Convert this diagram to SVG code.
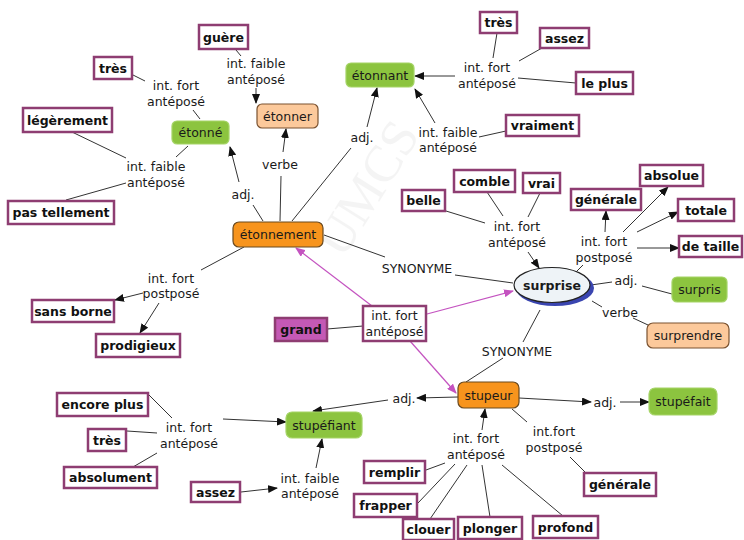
<svg xmlns="http://www.w3.org/2000/svg" width="744" height="540" viewBox="0 0 744 540">
<defs>
<marker id="ah" markerUnits="userSpaceOnUse" markerWidth="10" markerHeight="8" refX="9" refY="4" orient="auto"><path d="M0,0 L10,4 L0,8 z" fill="#111"/></marker>
<marker id="am" markerUnits="userSpaceOnUse" markerWidth="10" markerHeight="8" refX="9" refY="4" orient="auto"><path d="M0,0 L10,4 L0,8 z" fill="#c453c0"/></marker>
</defs>
<style>
text{font-family:"DejaVu Sans","Noto Sans",sans-serif;font-size:12.5px;fill:#1a1a1a;text-anchor:middle;dominant-baseline:central}
.b rect{fill:#fff;stroke:#8e3d72;stroke-width:2.5}
.b text{font-weight:bold;fill:#111}
.g rect{fill:#8cc43f;stroke:#a5d467;stroke-width:1.2}
.p rect{fill:#fcc99b;stroke:#7a5230;stroke-width:1.2}
.o rect{fill:#f7941d;stroke:#6b4a1f;stroke-width:1.2}
#conn line{stroke:#333;stroke-width:1}
#conn .a{marker-end:url(#ah)}
#conn line.m{stroke:#c453c0;stroke-width:1.2;marker-end:url(#am)}
.wm{font-family:"Liberation Serif",serif;font-size:52px;fill:#000;opacity:0.04}
</style>
<rect width="744" height="540" fill="#fff"/>
<text class="wm" transform="translate(367,188) rotate(-58)">UMCS</text>
<g id="conn">
<line x1="236" y1="50" x2="241" y2="56"/>
<line class="a" x1="256" y1="88" x2="256" y2="103"/>
<line x1="133" y1="75" x2="145" y2="81"/>
<line x1="193" y1="110" x2="200" y2="119"/>
<line x1="72" y1="132" x2="126" y2="158"/>
<line x1="176" y1="157" x2="188" y2="146"/>
<line x1="66" y1="200" x2="126" y2="183"/>
<line x1="263" y1="221" x2="253" y2="205"/>
<line class="a" x1="239" y1="182" x2="230" y2="147"/>
<line x1="280" y1="221" x2="281" y2="176"/>
<line class="a" x1="283" y1="152" x2="286" y2="129"/>
<line x1="292" y1="221" x2="351" y2="148"/>
<line class="a" x1="367" y1="127" x2="377" y2="88"/>
<line x1="497" y1="33" x2="493" y2="58"/>
<line x1="542" y1="48" x2="519" y2="61"/>
<line x1="576" y1="83" x2="518" y2="78"/>
<line class="a" x1="455" y1="76" x2="415" y2="76"/>
<line class="a" x1="435" y1="123" x2="415" y2="89"/>
<line x1="506" y1="131" x2="479" y2="137"/>
<line x1="244" y1="247" x2="201" y2="270"/>
<line class="a" x1="143" y1="293" x2="115" y2="300"/>
<line class="a" x1="159" y1="303" x2="140" y2="333"/>
<line x1="324" y1="235" x2="385" y2="257"/>
<line x1="455" y1="275" x2="513" y2="283"/>
<line x1="327" y1="329" x2="363" y2="326"/>
<line x1="446" y1="211" x2="485" y2="223"/>
<line x1="487" y1="192" x2="503" y2="216"/>
<line x1="540" y1="193" x2="528" y2="217"/>
<line class="a" x1="528" y1="252" x2="539" y2="268"/>
<line x1="576" y1="272" x2="583" y2="265"/>
<line class="a" x1="605" y1="232" x2="606" y2="211"/>
<line class="a" x1="623" y1="232" x2="668" y2="187"/>
<line class="a" x1="637" y1="232" x2="678" y2="212"/>
<line class="a" x1="637" y1="248" x2="679" y2="248"/>
<line x1="591" y1="285" x2="612" y2="282"/>
<line x1="642" y1="286" x2="672" y2="294"/>
<line x1="592" y1="301" x2="602" y2="307"/>
<line x1="633" y1="318" x2="648" y2="325"/>
<line x1="540" y1="310" x2="523" y2="342"/>
<line x1="503" y1="358" x2="466" y2="382"/>
<line class="a" x1="458" y1="397" x2="417" y2="398"/>
<line class="a" x1="388" y1="400" x2="313" y2="411"/>
<line class="a" x1="519" y1="398" x2="591" y2="402"/>
<line class="a" x1="620" y1="402" x2="649" y2="402"/>
<line x1="512" y1="409" x2="527" y2="422"/>
<line x1="570" y1="457" x2="585" y2="472"/>
<line class="a" x1="482" y1="430" x2="485" y2="409"/>
<line x1="426" y1="470" x2="445" y2="463"/>
<line x1="418" y1="503" x2="455" y2="464"/>
<line x1="430" y1="519" x2="467" y2="465"/>
<line x1="482" y1="465" x2="490" y2="517"/>
<line x1="502" y1="465" x2="563" y2="516"/>
<line x1="149" y1="395" x2="172" y2="418"/>
<line x1="127" y1="431" x2="157" y2="433"/>
<line x1="133" y1="467" x2="157" y2="453"/>
<line class="a" x1="223" y1="419" x2="286" y2="422"/>
<line class="a" x1="241" y1="492" x2="277" y2="488"/>
<line class="a" x1="316" y1="468" x2="322" y2="439"/>
<line class="m" x1="372" y1="306" x2="296" y2="248"/>
<line class="m" x1="427" y1="314" x2="513" y2="291"/>
<line class="m" x1="410" y1="341" x2="456" y2="393"/>
</g>
<g id="labels">
<text x="256" y="63">int. faible</text><text x="256" y="79">antéposé</text>
<text x="176" y="85">int. fort</text><text x="176" y="101">antéposé</text>
<text x="156" y="166">int. faible</text><text x="156" y="182">antéposé</text>
<text x="243" y="194">adj.</text>
<text x="280" y="164">verbe</text>
<text x="362" y="137">adj.</text>
<text x="487" y="67">int. fort</text><text x="487" y="83">antéposé</text>
<text x="448" y="132">int. faible</text><text x="448" y="147">antéposé</text>
<text x="517" y="226">int. fort</text><text x="517" y="242">antéposé</text>
<text x="604" y="241">int. fort</text><text x="604" y="257">postposé</text>
<text x="626" y="280">adj.</text>
<text x="620" y="312">verbe</text>
<text x="417" y="268">SYNONYME</text>
<text x="517" y="351">SYNONYME</text>
<text x="171" y="278">int. fort</text><text x="171" y="293">postposé</text>
<text x="189" y="427">int. fort</text><text x="189" y="443">antéposé</text>
<text x="310" y="478">int. faible</text><text x="310" y="493">antéposé</text>
<text x="404" y="398">adj.</text>
<text x="476" y="438">int. fort</text><text x="476" y="454">antéposé</text>
<text x="554" y="431">int.fort</text><text x="554" y="447">postposé</text>
<text x="605" y="402">adj.</text>
</g>
<g id="n-central"><rect x="363" y="306" width="63" height="35" fill="#fff" stroke="#8e3d72" stroke-width="2.5"/><text x="394.5" y="315">int. fort</text><text x="394.5" y="331">antéposé</text></g>
<g id="n-guere" class="b"><rect x="199" y="25" width="49" height="24"/><text x="223.5" y="37">guère</text></g>
<g id="n-tres1" class="b"><rect x="94" y="57" width="38" height="22"/><text x="113" y="68">très</text></g>
<g id="n-legerement" class="b"><rect x="23" y="108" width="89" height="24"/><text x="67.5" y="120">légèrement</text></g>
<g id="n-pastellement" class="b"><rect x="8" y="201" width="106" height="23"/><text x="61" y="212.5">pas tellement</text></g>
<g id="n-sansborne" class="b"><rect x="32" y="300" width="82" height="22"/><text x="73" y="311">sans borne</text></g>
<g id="n-prodigieux" class="b"><rect x="96" y="334" width="84" height="23"/><text x="138" y="345.5">prodigieux</text></g>
<g id="n-tres2" class="b"><rect x="480" y="12" width="37" height="21"/><text x="498.5" y="22.5">très</text></g>
<g id="n-assez1" class="b"><rect x="540" y="28" width="49" height="20"/><text x="564.5" y="38">assez</text></g>
<g id="n-leplus" class="b"><rect x="576" y="72" width="57" height="22"/><text x="604.5" y="83">le plus</text></g>
<g id="n-vraiment" class="b"><rect x="506" y="115" width="73" height="21"/><text x="542.5" y="125.5">vraiment</text></g>
<g id="n-absolue" class="b"><rect x="640" y="165" width="63" height="21"/><text x="671.5" y="175.5">absolue</text></g>
<g id="n-generale1" class="b"><rect x="571" y="189" width="70" height="21"/><text x="606" y="199.5">générale</text></g>
<g id="n-totale" class="b"><rect x="678" y="199" width="56" height="22"/><text x="706" y="210">totale</text></g>
<g id="n-detaille" class="b"><rect x="679" y="236" width="63" height="21"/><text x="710.5" y="246.5">de taille</text></g>
<g id="n-comble" class="b"><rect x="454" y="170" width="61" height="22"/><text x="484.5" y="181">comble</text></g>
<g id="n-vrai" class="b"><rect x="523" y="173" width="37" height="20"/><text x="541.5" y="183">vrai</text></g>
<g id="n-belle" class="b"><rect x="402" y="190" width="43" height="21"/><text x="423.5" y="200.5">belle</text></g>
<g id="n-grand" class="b"><rect x="275" y="318" width="52" height="23" style="fill:#c459b5"/><text x="301" y="329.5">grand</text></g>
<g id="n-encoreplus" class="b"><rect x="57" y="393" width="91" height="23"/><text x="102.5" y="404.5">encore plus</text></g>
<g id="n-tres3" class="b"><rect x="88" y="429" width="38" height="22"/><text x="107" y="440">très</text></g>
<g id="n-absolument" class="b"><rect x="64" y="467" width="93" height="21"/><text x="110.5" y="477.5">absolument</text></g>
<g id="n-assez2" class="b"><rect x="191" y="482" width="49" height="20"/><text x="215.5" y="492">assez</text></g>
<g id="n-remplir" class="b"><rect x="364" y="461" width="61" height="22"/><text x="394.5" y="472">remplir</text></g>
<g id="n-frapper" class="b"><rect x="354" y="494" width="63" height="23"/><text x="385.5" y="505.5">frapper</text></g>
<g id="n-clouer" class="b"><rect x="403" y="519" width="51" height="21"/><text x="428.5" y="529.5">clouer</text></g>
<g id="n-plonger" class="b"><rect x="458" y="517" width="64" height="22"/><text x="490" y="528">plonger</text></g>
<g id="n-profond" class="b"><rect x="533" y="516" width="65" height="22"/><text x="565.5" y="527">profond</text></g>
<g id="n-generale2" class="b"><rect x="584" y="473" width="72" height="23"/><text x="620" y="484.5">générale</text></g>
<g id="n-etonne" class="g"><rect x="172" y="121" width="57" height="23" rx="5"/><text x="200.5" y="132.5">étonné</text></g>
<g id="n-etonner" class="p"><rect x="257" y="104" width="61" height="24" rx="5"/><text x="287.5" y="116">étonner</text></g>
<g id="n-etonnant" class="g"><rect x="346" y="63" width="68" height="24" rx="5"/><text x="380" y="75">étonnant</text></g>
<g id="n-etonnement" class="o"><rect x="233" y="222" width="90" height="25" rx="6"/><text x="278" y="234.5">étonnement</text></g>
<g id="n-surprise"><ellipse cx="555" cy="288" rx="39" ry="18" fill="#3a45b0"/><ellipse cx="552" cy="285" rx="38" ry="17.5" fill="#eef3f7" stroke="#222" stroke-width="1.2"/><text x="552" y="285" style="font-weight:bold">surprise</text></g>
<g id="n-surpris" class="g"><rect x="672" y="277" width="55" height="25" rx="5"/><text x="699.5" y="289.5">surpris</text></g>
<g id="n-surprendre" class="p"><rect x="647" y="323" width="82" height="25" rx="6"/><text x="688" y="335.5">surprendre</text></g>
<g id="n-stupeur" class="o"><rect x="458" y="382" width="61" height="26" rx="6"/><text x="488.5" y="395">stupeur</text></g>
<g id="n-stupefait" class="g"><rect x="649" y="388" width="68" height="27" rx="6"/><text x="683" y="401.5">stupéfait</text></g>
<g id="n-stupefiant" class="g"><rect x="286" y="412" width="76" height="26" rx="6"/><text x="324" y="425">stupéfiant</text></g>
</svg>
